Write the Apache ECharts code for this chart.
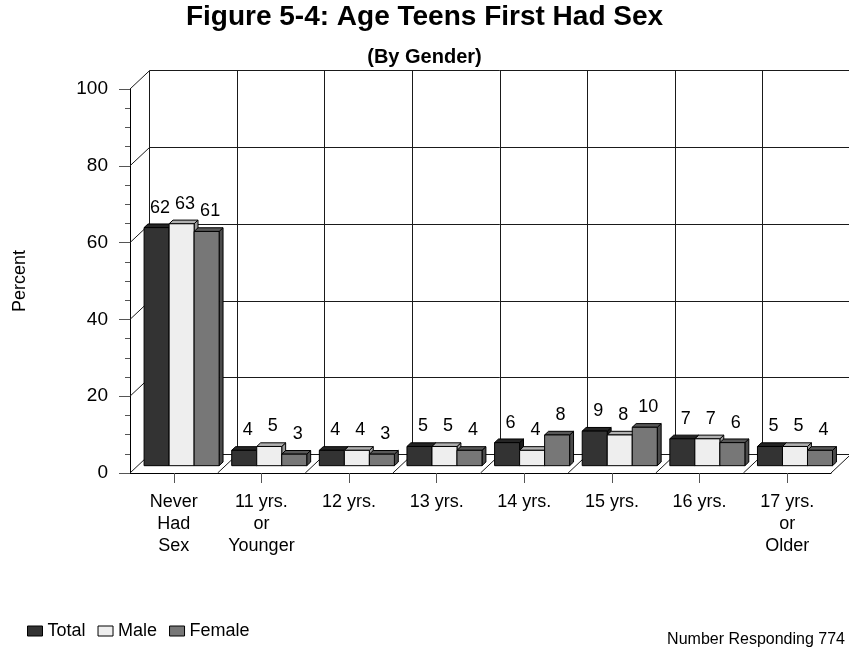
<!DOCTYPE html>
<html><head><meta charset="utf-8">
<script src="https://cdn.jsdelivr.net/npm/echarts@6/dist/echarts.min.js"></script>
<style>html,body{margin:0;padding:0;background:#fff}#c{width:849px;height:651px}</style>
</head><body><div id="c"></div>
<script>
// ---- data ----
const categories = ['Never\nHad\nSex', '11 yrs.\nor\nYounger', '12 yrs.', '13 yrs.', '14 yrs.', '15 yrs.', '16 yrs.', '17 yrs.\nor\nOlder'];
const seriesNames = ['Total', 'Male', 'Female'];
const totalValues = [62, 4, 4, 5, 6, 9, 7, 5];
const maleValues = [63, 5, 4, 5, 4, 8, 7, 5];
const femaleValues = [61, 3, 3, 4, 8, 10, 6, 4];
const yTicks = [0, 20, 40, 60, 80, 100];
const titleText = 'Figure 5-4: Age Teens First Had Sex';
const subtitleText = '(By Gender)';
const noteText = 'Number Responding 774';
const yAxisName = 'Percent';

// ---- styles ----
const FONT = 'Liberation Sans, Arial, sans-serif';
const DEPTH_X = 19.5, DEPTH_Y = -18.3;     // full depth of the 3D box
const BAR_FRONT = 0.4, BAR_DEPTH = 0.2;    // bar placement inside depth
const BAR_FRAC = 0.2855;                   // each bar width / category band
const frontColors = ['#333333', '#eeeeee', '#777777'];
const topColors = ['#252525', '#b0b0b0', '#585858'];
const sideColors = ['#1b1b1b', '#9a9a9a', '#4a4a4a'];
const LINE = '#1a1a1a';

const chart = echarts.init(document.getElementById('c'));
const valueSets = [totalValues, maleValues, femaleValues];

function crisp(v) { return Math.round(v - 0.5) + 0.5; }

function wallRender(params, api) {
  const cs = params.coordSys;
  const L = cs.x, R = cs.x + cs.width;
  const band = api.size([1, 0])[0];
  const children = [];
  const line = (x1, y1, x2, y2) => children.push({
    type: 'line', shape: { x1, y1, x2, y2 },
    style: { stroke: LINE, lineWidth: 1 }
  });
  yTicks.forEach(v => {
    const y = api.coord([0, v])[1];
    const yb = crisp(y + DEPTH_Y);
    line(L + DEPTH_X, yb, R + DEPTH_X + 2, yb);
    line(L, y, L + DEPTH_X, y + DEPTH_Y);
  });
  const y0 = api.coord([0, yTicks[0]])[1];
  const yTop = api.coord([0, yTicks[yTicks.length - 1]])[1];
  for (let k = 0; k <= categories.length; k++) {
    const xb = L + k * band;
    const xv = crisp(xb + DEPTH_X);
    line(xv, y0 + DEPTH_Y, xv, yTop + DEPTH_Y);
    if (k > 0) line(xb, y0, xb + DEPTH_X, y0 + DEPTH_Y);
  }
  return { type: 'group', children };
}

function barRender(s) {
  return function (params, api) {
    const i = api.value(0), v = api.value(1);
    const base = api.coord([i, 0]);
    const topP = api.coord([i, v]);
    const band = api.size([1, 0])[0];
    const bw = band * BAR_FRAC;
    const ox = DEPTH_X * BAR_FRONT, oy = DEPTH_Y * BAR_FRONT;
    const dx = DEPTH_X * BAR_DEPTH, dy = DEPTH_Y * BAR_DEPTH;
    const x0 = base[0] + ox + (s - 1.5) * bw;
    const x1 = x0 + bw;
    const yb = base[1] + oy, yt = topP[1] + oy;
    const stroke = { stroke: '#000', lineWidth: 1 };
    return {
      type: 'group',
      children: [
        { type: 'polygon', shape: { points: [[x1, yt], [x1 + dx, yt + dy], [x1 + dx, yb + dy], [x1, yb]] },
          style: Object.assign({ fill: sideColors[s] }, stroke) },
        { type: 'polygon', shape: { points: [[x0, yt], [x1, yt], [x1 + dx, yt + dy], [x0 + dx, yt + dy]] },
          style: Object.assign({ fill: topColors[s] }, stroke) },
        { type: 'rect', shape: { x: x0, y: yt, width: bw, height: yb - yt },
          style: Object.assign({ fill: frontColors[s] }, stroke) },
        { type: 'text', z2: 10,
          style: { x: x0 + bw / 2 + 3.5, y: yt - 20, text: String(v), align: 'center', verticalAlign: 'middle',
                   fill: '#000', fontSize: 18, fontFamily: FONT } }
      ]
    };
  };
}

const series = [{
  type: 'custom', name: 'wall', silent: true, z: 1, clip: false,
  renderItem: wallRender, data: [[0, 0]]
}];
valueSets.forEach((vals, s) => {
  series.push({
    type: 'custom', name: seriesNames[s], z: 2 + s, clip: false,
    itemStyle: { color: frontColors[s], borderColor: '#000', borderWidth: 1 },
    renderItem: barRender(s),
    data: vals.map((v, i) => [i, v])
  });
});

chart.setOption({
  animation: false,
  backgroundColor: '#fff',
  textStyle: { fontFamily: FONT, color: '#000' },
  title: [
    { text: titleText, left: 'center', top: 3, padding: 0,
      textStyle: { fontSize: 28, fontWeight: 'bold', color: '#000', fontFamily: FONT } },
    { text: subtitleText, left: 'center', top: 47, padding: 0,
      textStyle: { fontSize: 20, fontWeight: 'bold', color: '#000', fontFamily: FONT } },
    { text: noteText, right: 4, top: 632, padding: 0,
      textStyle: { fontSize: 16, fontWeight: 'normal', color: '#000', fontFamily: FONT } }
  ],
  legend: {
    data: seriesNames, left: 27, top: 622, padding: 0,
    itemWidth: 15, itemHeight: 10, itemGap: 12, icon: 'rect',
    textStyle: { fontSize: 18, color: '#000', fontFamily: FONT },
    itemStyle: { borderColor: '#000', borderWidth: 1 }
  },
  grid: { left: 130, right: 18, top: 89, bottom: 178, containLabel: false, outerBoundsMode: 'none' },
  xAxis: {
    type: 'category', data: categories,
    axisLine: { show: true, lineStyle: { color: '#000', width: 1 } },
    axisTick: { show: true, alignWithLabel: true, length: 10, lineStyle: { color: '#555' } },
    axisLabel: { margin: 18, fontSize: 18, lineHeight: 22, color: '#000', fontFamily: FONT, interval: 0 },
    splitLine: { show: false }
  },
  yAxis: {
    type: 'value', min: 0, max: 100, interval: 20,
    name: yAxisName, nameLocation: 'middle', nameGap: 101, nameRotate: 90,
    nameTextStyle: { fontSize: 18, color: '#000', fontFamily: FONT },
    axisLine: { show: true, lineStyle: { color: '#000', width: 1 } },
    axisTick: { show: true, length: 11, lineStyle: { color: '#555' } },
    minorTick: { show: true, splitNumber: 4, length: 5, lineStyle: { color: '#555' } },
    axisLabel: { margin: 22, fontSize: 19, color: '#000', fontFamily: FONT },
    splitLine: { show: false }
  },
  series
});
</script>
</body></html>
